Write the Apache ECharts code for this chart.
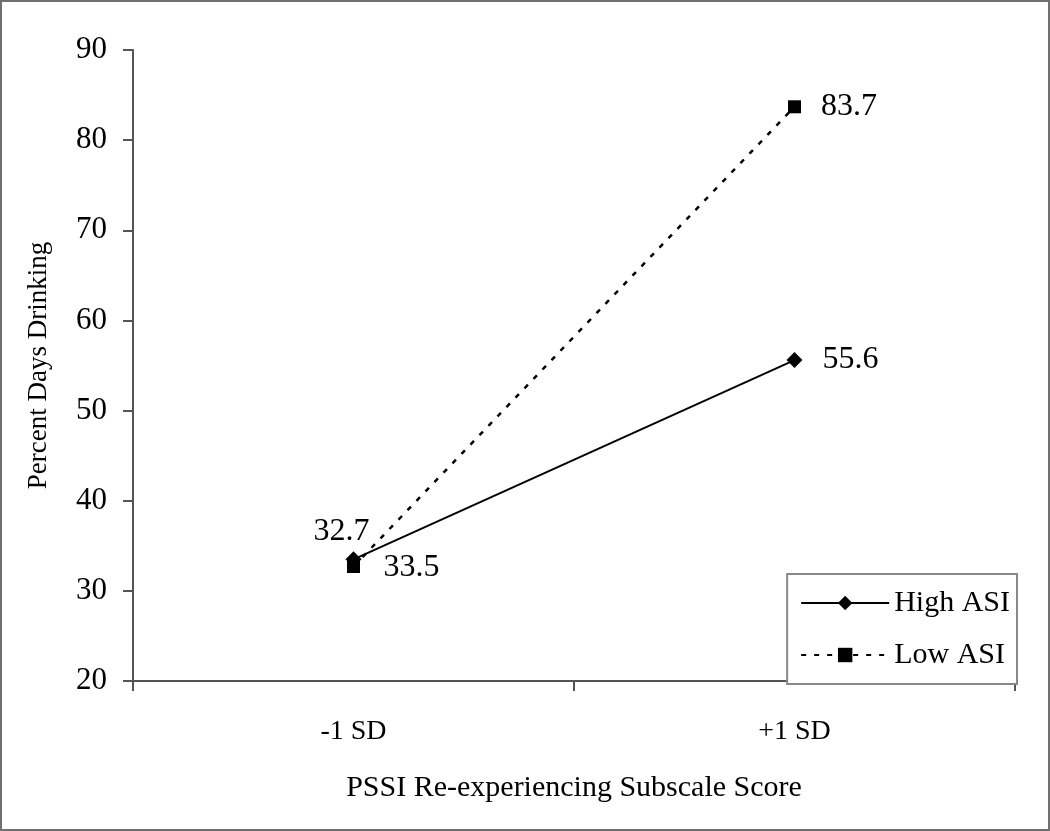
<!DOCTYPE html>
<html>
<head>
<meta charset="utf-8">
<script src="https://cdn.jsdelivr.net/npm/echarts@6/dist/echarts.min.js"></script>
<style>
  html, body { margin: 0; padding: 0; background: #fff; }
  #frame { width: 1050px; height: 831px; box-sizing: border-box; border: 2px solid #707070; position: relative; }
  #chart { position: absolute; left: -2px; top: -2px; width: 1050px; height: 831px; }
</style>
</head>
<body>
<div id="frame"><div id="chart"></div></div>
<script>
const categories = ['-1 SD', '+1 SD'];
const highASI = [33.5, 55.6];
const lowASI = [32.7, 83.7];
const yTicks = [20, 30, 40, 50, 60, 70, 80, 90];
const seriesNames = ['High ASI', 'Low ASI'];

const FONT = '"Liberation Serif", "DejaVu Serif", serif';
const AXIS = '#555';

const highData = highASI.map((v, i) => ({
  value: v,
  label: i === 0 ? { position: 'right', distance: 22, offset: [0, 8] } : { position: 'right', distance: 20 }
}));
const lowData = lowASI.map((v, i) => ({
  value: v,
  label: i === 0 ? { position: 'top', distance: 12, offset: [-12, 0] } : { position: 'right', distance: 20 }
}));

const chart = echarts.init(document.getElementById('chart'), null, { renderer: 'canvas' });
chart.setOption({
  backgroundColor: 'transparent',
  animation: false,
  textStyle: { fontFamily: FONT, color: '#000' },
  grid: { left: 133, right: 35, top: 50, bottom: 150, containLabel: false },
  legend: {
    orient: 'vertical',
    right: 33, bottom: 147,
    backgroundColor: '#fff',
    borderColor: '#888', borderWidth: 2,
    padding: [14, 7, 14, 13],
    itemGap: 22,
    itemWidth: 88, itemHeight: 18,
    textStyle: { fontFamily: FONT, fontSize: 30, color: '#000', lineHeight: 30 },
    data: seriesNames
  },
  xAxis: {
    type: 'category',
    data: categories,
    boundaryGap: true,
    axisLine: { lineStyle: { color: AXIS, width: 2 } },
    axisTick: { show: true, length: 10, lineStyle: { color: AXIS, width: 2 } },
    axisLabel: { fontFamily: FONT, fontSize: 28, color: '#000', margin: 37 },
    name: 'PSSI Re-experiencing Subscale Score',
    nameLocation: 'middle', nameGap: 92,
    nameTextStyle: { fontFamily: FONT, fontSize: 30, color: '#000' }
  },
  yAxis: {
    type: 'value',
    min: yTicks[0], max: yTicks[yTicks.length - 1], interval: 10,
    axisLine: { show: true, lineStyle: { color: AXIS, width: 2 } },
    axisTick: { show: true, length: 10, lineStyle: { color: AXIS, width: 2 } },
    splitLine: { show: false },
    axisLabel: { fontFamily: FONT, fontSize: 31, color: '#000', margin: 26 },
    name: 'Percent Days Drinking',
    nameLocation: 'middle', nameGap: 81, nameRotate: 90,
    nameTextStyle: { fontFamily: FONT, fontSize: 27, color: '#000' }
  },
  series: [
    {
      name: seriesNames[0], type: 'line', data: highData,
      symbol: 'diamond', symbolSize: 16,
      itemStyle: { color: '#000' },
      lineStyle: { color: '#000', width: 2 },
      label: { show: true, fontFamily: FONT, fontSize: 32, color: '#000' },
      z: 3
    },
    {
      name: seriesNames[1], type: 'line', data: lowData,
      symbol: 'rect', symbolSize: 13,
      itemStyle: { color: '#000' },
      lineStyle: { color: '#000', width: 2.5, type: [5, 8] },
      label: { show: true, fontFamily: FONT, fontSize: 32, color: '#000' },
      z: 2
    }
  ]
});
</script>
</body>
</html>
